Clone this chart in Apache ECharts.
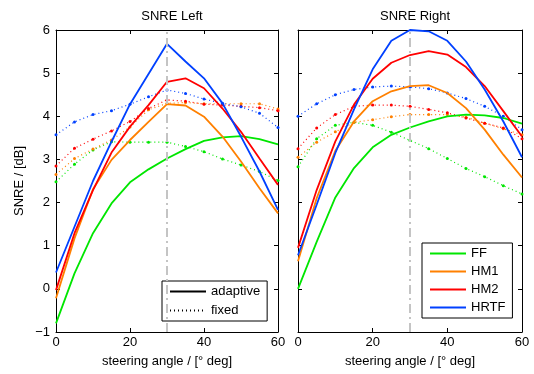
<!DOCTYPE html>
<html>
<head>
<meta charset="utf-8">
<script src="https://cdn.jsdelivr.net/npm/echarts@6/dist/echarts.min.js"></script>
<style>
  html, body { margin: 0; padding: 0; background: #fff; }
  #chart { width: 534px; height: 374px; }
</style>
</head>
<body>
<div id="chart"></div>
<script>
// steering angles in degrees
const angles = [0, 5, 10, 15, 20, 25, 30, 35, 40, 45, 50, 55, 60];
const methods = ['FF', 'HM1', 'HM2', 'HRTF'];
const colors = ['#00e600', '#ff8000', '#ff0000', '#0040ff'];

// SNRE Left, adaptive (solid)
const leftAdaptiveFF   = [-0.80, 0.36, 1.29, 1.98, 2.47, 2.77, 3.02, 3.24, 3.43, 3.51, 3.54, 3.47, 3.35];
const leftAdaptiveHM1  = [-0.22, 1.17, 2.31, 2.99, 3.45, 3.87, 4.28, 4.25, 3.99, 3.53, 2.95, 2.33, 1.75];
const leftAdaptiveHM2  = [-0.03, 1.29, 2.29, 3.16, 3.76, 4.26, 4.80, 4.88, 4.65, 4.18, 3.64, 3.02, 2.41];
const leftAdaptiveHRTF = [0.38, 1.44, 2.50, 3.41, 4.28, 4.98, 5.68, 5.27, 4.88, 4.30, 3.53, 2.72, 1.83];
// SNRE Left, fixed (dotted)
const leftFixedFF   = [2.48, 2.89, 3.22, 3.41, 3.40, 3.40, 3.40, 3.30, 3.18, 3.01, 2.87, 2.72, 2.51];
const leftFixedHM1  = [2.65, 3.02, 3.24, 3.45, 3.75, 4.15, 4.30, 4.32, 4.29, 4.29, 4.29, 4.29, 4.17];
const leftFixedHM2  = [2.85, 3.26, 3.47, 3.66, 3.88, 4.18, 4.38, 4.35, 4.28, 4.26, 4.23, 4.20, 4.13];
const leftFixedHRTF = [3.57, 3.87, 4.04, 4.13, 4.28, 4.45, 4.61, 4.53, 4.40, 4.30, 4.22, 4.07, 3.74];

// SNRE Right, adaptive (solid)
const rightAdaptiveFF   = [0.00, 1.09, 2.12, 2.80, 3.28, 3.57, 3.74, 3.88, 4.00, 4.04, 4.02, 3.96, 3.83];
const rightAdaptiveHM1  = [0.64, 2.10, 3.20, 3.88, 4.35, 4.58, 4.70, 4.72, 4.54, 4.19, 3.69, 3.11, 2.58];
const rightAdaptiveHM2  = [0.95, 2.29, 3.42, 4.27, 4.87, 5.24, 5.42, 5.51, 5.43, 5.14, 4.70, 4.12, 3.53];
const rightAdaptiveHRTF = [0.78, 1.95, 3.15, 4.16, 5.09, 5.75, 6.00, 5.97, 5.75, 5.27, 4.62, 3.88, 3.05];
// SNRE Right, fixed (dotted)
const rightFixedFF   = [2.83, 3.48, 3.79, 3.86, 3.79, 3.63, 3.44, 3.25, 3.02, 2.79, 2.60, 2.39, 2.20];
const rightFixedHM1  = [3.05, 3.40, 3.64, 3.86, 3.92, 3.99, 4.04, 4.04, 4.04, 3.98, 3.84, 3.71, 3.57];
const rightFixedHM2  = [3.25, 3.73, 4.04, 4.23, 4.26, 4.26, 4.23, 4.16, 4.08, 3.96, 3.84, 3.73, 3.48];
const rightFixedHRTF = [4.00, 4.29, 4.50, 4.62, 4.68, 4.70, 4.68, 4.64, 4.54, 4.41, 4.23, 4.00, 3.69];

const steerAngle = 30;

const leftAdaptive  = [leftAdaptiveFF, leftAdaptiveHM1, leftAdaptiveHM2, leftAdaptiveHRTF];
const leftFixed     = [leftFixedFF, leftFixedHM1, leftFixedHM2, leftFixedHRTF];
const rightAdaptive = [rightAdaptiveFF, rightAdaptiveHM1, rightAdaptiveHM2, rightAdaptiveHRTF];
const rightFixed    = [rightFixedFF, rightFixedHM1, rightFixedHM2, rightFixedHRTF];

const FONT = 'Liberation Sans, Arial, Helvetica, sans-serif';
const pair = arr => angles.map((a, i) => [a, arr[i]]);

const chart = echarts.init(document.getElementById('chart'));

function xAxes(gi) {
  return [
    {
      type: 'value', gridIndex: gi, min: 0, max: 60, interval: 20,
      name: 'steering angle / [° deg]', nameLocation: 'middle', nameGap: 23,
      nameTextStyle: { fontFamily: FONT, fontSize: 13, color: '#000' },
      axisLine: { onZero: false, lineStyle: { color: '#000', width: 1 } },
      axisTick: { inside: true, length: 4, lineStyle: { color: '#000' } },
      axisLabel: { fontFamily: FONT, fontSize: 13, color: '#000', margin: 4 },
      splitLine: { show: false }
    },
    {
      type: 'value', gridIndex: gi, position: 'top', min: 0, max: 60, interval: 20,
      axisLine: { onZero: false, lineStyle: { color: '#000', width: 1 } },
      axisTick: { inside: true, length: 4, lineStyle: { color: '#000' } },
      axisLabel: { show: false },
      splitLine: { show: false }
    }
  ];
}

function yAxes(gi, labels) {
  return [
    {
      type: 'value', gridIndex: gi, min: -1, max: 6, interval: 1,
      name: labels ? 'SNRE / [dB]' : '', nameLocation: 'middle', nameGap: 30,
      nameTextStyle: { fontFamily: FONT, fontSize: 13, color: '#000' },
      axisLine: { onZero: false, lineStyle: { color: '#000', width: 1 } },
      axisTick: { inside: true, length: 4, lineStyle: { color: '#000' } },
      axisLabel: {
        show: labels, fontFamily: FONT, fontSize: 13, color: '#000', margin: 6,
        formatter: v => String(v).replace('-', '\u2212')
      },
      splitLine: { show: false }
    },
    {
      type: 'value', gridIndex: gi, position: 'right', min: -1, max: 6, interval: 1,
      axisLine: { onZero: false, lineStyle: { color: '#000', width: 1 } },
      axisTick: { inside: true, length: 4, lineStyle: { color: '#000' } },
      axisLabel: { show: false },
      splitLine: { show: false }
    }
  ];
}

const series = [];

// dash-dot marker at the steering direction, one per panel
[0, 1].forEach(gi => {
  series.push({
    type: 'line', xAxisIndex: gi * 2, yAxisIndex: gi * 2, data: [], z: 1, silent: true,
    markLine: {
      silent: true, symbol: 'none', label: { show: false },
      lineStyle: { color: '#c4c4c4', width: 2, type: [9, 4, 2, 4] },
      data: [{ xAxis: steerAngle }]
    }
  });
});

function addPanel(gi, adaptive, fixed) {
  methods.forEach((m, k) => {
    series.push({
      name: m + ' fixed', type: 'line', xAxisIndex: gi * 2, yAxisIndex: gi * 2,
      data: pair(fixed[k]), symbol: 'circle', symbolSize: 3, showSymbol: true,
      itemStyle: { color: colors[k] },
      lineStyle: { color: colors[k], width: 1.2, type: [1, 3] },
      z: 2, animation: false
    });
  });
  methods.forEach((m, k) => {
    series.push({
      name: m, type: 'line', xAxisIndex: gi * 2, yAxisIndex: gi * 2,
      data: pair(adaptive[k]), symbol: 'none',
      itemStyle: { color: colors[k] },
      lineStyle: { color: colors[k], width: 1.8 },
      z: 3, animation: false
    });
  });
}

addPanel(0, leftAdaptive, leftFixed);
addPanel(1, rightAdaptive, rightFixed);

// legend-only entries for the line styles
series.push({
  name: 'adaptive', type: 'line', xAxisIndex: 0, yAxisIndex: 0, data: [], symbol: 'none',
  itemStyle: { color: '#000' }, lineStyle: { color: '#000', width: 1.8 }
});
series.push({
  name: 'fixed', type: 'line', xAxisIndex: 0, yAxisIndex: 0, data: [], symbol: 'none',
  itemStyle: { color: '#000' }, lineStyle: { color: '#000', width: 1, type: [1, 3] }
});

const legendBase = {
  orient: 'vertical', backgroundColor: '#fff', borderColor: '#000', borderWidth: 1,
  borderRadius: 0, itemWidth: 36, itemHeight: 14, selectedMode: false,
  itemStyle: { opacity: 0 },
  textStyle: { fontFamily: FONT, fontSize: 13, color: '#000' }
};

chart.setOption({
  animation: false,
  backgroundColor: '#fff',
  title: [
    { text: 'SNRE Left', left: 167, top: 5, textAlign: 'center',
      textStyle: { fontFamily: FONT, fontSize: 13, fontWeight: 'normal', color: '#000' } },
    { text: 'SNRE Right', left: 410, top: 5, textAlign: 'center',
      textStyle: { fontFamily: FONT, fontSize: 13, fontWeight: 'normal', color: '#000' } }
  ],
  grid: [
    { left: 56, top: 30, width: 222, height: 302 },
    { left: 298, top: 30, width: 224, height: 302 }
  ],
  xAxis: [...xAxes(0), ...xAxes(1)],
  yAxis: [...yAxes(0, true), ...yAxes(1, false)],
  legend: [
    Object.assign({}, legendBase, {
      data: ['adaptive', 'fixed'], left: 162, top: 281, itemGap: 6, padding: [4, 7, 4, 7]
    }),
    Object.assign({}, legendBase, {
      data: methods, left: 422, top: 243, itemGap: 5, padding: [4, 7, 4, 7]
    })
  ],
  series: series
});
</script>
</body>
</html>
